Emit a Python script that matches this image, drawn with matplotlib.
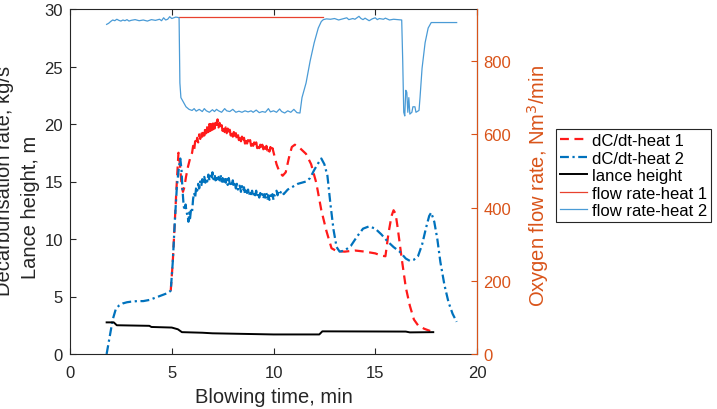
import numpy as np
import matplotlib
matplotlib.use('Agg')
import matplotlib.pyplot as plt

plt.rcParams['font.family'] = ['Liberation Sans', 'DejaVu Sans']

# decarburisation rate, heat 1 (kg/s)
t_dc1 = [4.95, 5.05, 5.15, 5.25, 5.33, 5.4, 5.48, 5.55, 5.62, 5.7, 5.8, 5.9, 6.0, 6.05, 6.1,
         6.15, 6.2, 6.25, 6.3, 6.35, 6.4, 6.45, 6.5, 6.55, 6.6, 6.65, 6.7, 6.75, 6.8, 6.85,
         6.9, 6.95, 7.0, 7.05, 7.1, 7.15, 7.2, 7.25, 7.3, 7.35, 7.4, 7.45, 7.5, 7.55, 7.6,
         7.65, 7.7, 7.75, 7.8, 7.85, 7.9, 7.95, 8.0, 8.05, 8.1, 8.15, 8.2, 8.25, 8.3, 8.35,
         8.4, 8.45, 8.5, 8.55, 8.6, 8.65, 8.7, 8.75, 8.8, 8.85, 8.9, 8.95, 9.0, 9.05, 9.1,
         9.15, 9.2, 9.25, 9.3, 9.35, 9.4, 9.45, 9.5, 9.55, 9.6, 9.65, 9.7, 9.75, 9.8, 9.85,
         9.9, 9.95, 10.05, 10.15, 10.3, 10.45, 10.6, 10.75, 10.9, 11.05, 11.3, 11.6, 11.85,
         12.1, 12.35, 12.6, 12.85, 13.1, 13.5, 14.0, 14.5, 15.0, 15.3, 15.5, 15.65, 15.8,
         15.9, 16.0, 16.1, 16.3, 16.5, 16.7, 16.9, 17.1, 17.4, 17.7]
dc1 = [5.5, 8.0, 11.5, 15.0, 17.5, 16.5, 14.8, 14.1, 14.5, 15.4, 16.3, 17.0, 17.5, 18.1, 17.7,
       18.5, 18.2, 18.8, 18.4, 19.1, 18.7, 19.3, 18.9, 19.5, 19.0, 19.7, 19.2, 19.8, 19.3, 20.0,
       19.4, 20.1, 19.5, 20.2, 19.6, 20.1, 19.7, 20.4, 19.7, 20.1, 19.5, 19.9, 19.4, 19.8, 19.3,
       19.7, 19.2, 19.6, 19.1, 19.5, 19.0, 19.4, 18.9, 19.3, 18.8, 19.2, 18.7, 19.1, 18.6, 19.0,
       18.5, 18.9, 18.4, 18.8, 18.3, 18.7, 18.3, 18.6, 18.2, 18.6, 18.1, 18.5, 18.1, 18.4, 18.0,
       18.4, 17.9, 18.3, 17.9, 18.2, 17.8, 18.2, 17.8, 18.1, 17.7, 18.1, 17.7, 18.0, 17.6, 18.0,
       17.6, 17.9, 17.2, 16.5, 15.8, 15.5, 15.8, 17.0, 18.0, 18.2, 17.9, 17.4, 16.5,
       14.9, 12.5, 10.7, 9.2, 8.95, 8.9, 9.0, 8.9, 8.75, 8.55, 8.5, 10.5, 12.0,
       12.5, 12.2, 11.0, 8.3, 5.8, 4.2, 3.0, 2.5, 2.2, 2.0]

# decarburisation rate, heat 2 (kg/s)
t_dc2 = [1.8, 1.95, 2.1, 2.25, 2.4, 2.6, 2.8, 3.0, 3.3, 3.6, 3.9, 4.2, 4.5, 4.8, 4.95, 5.05,
         5.15, 5.25, 5.35, 5.42, 5.48, 5.52, 5.58, 5.62, 5.68, 5.72, 5.78, 5.82, 5.86, 5.9,
         5.95, 6.0, 6.05, 6.1, 6.15, 6.2, 6.25, 6.3, 6.35, 6.4, 6.45, 6.5, 6.55, 6.6, 6.65,
         6.7, 6.75, 6.8, 6.85, 6.9, 6.95, 7.0, 7.05, 7.1, 7.15, 7.2, 7.25, 7.3, 7.35, 7.4,
         7.45, 7.5, 7.55, 7.6, 7.65, 7.7, 7.75, 7.8, 7.85, 7.9, 7.95, 8.0, 8.05, 8.1, 8.15,
         8.2, 8.25, 8.3, 8.35, 8.4, 8.45, 8.5, 8.55, 8.6, 8.65, 8.7, 8.75, 8.8, 8.85, 8.9,
         8.95, 9.0, 9.05, 9.1, 9.15, 9.2, 9.25, 9.3, 9.35, 9.4, 9.45, 9.5, 9.55, 9.6, 9.65,
         9.7, 9.75, 9.8, 9.85, 9.9, 9.95, 10.0, 10.05, 10.1, 10.15, 10.2, 10.25, 10.3, 10.4,
         10.5, 10.6, 10.7, 10.8, 10.9, 11.0, 11.2, 11.4, 11.6, 11.8, 12.0, 12.2, 12.35, 12.5,
         12.65, 12.8, 12.95, 13.1, 13.25, 13.5, 13.8, 14.1, 14.4, 14.7, 15.0, 15.3, 15.6,
         15.9, 16.2, 16.5, 16.7, 16.9, 17.1, 17.3, 17.5, 17.65, 17.75, 17.9, 18.05, 18.2,
         18.4, 18.6, 18.8, 19.0]
dc2 = [0.0, 1.5, 3.0, 3.9, 4.2, 4.4, 4.5, 4.55, 4.6, 4.6, 4.7, 4.9, 5.1, 5.3, 5.5, 8.0,
       11.5, 14.5, 16.2, 17.0, 16.0, 14.5, 13.0, 12.5, 13.0, 12.4, 12.0, 11.5, 12.3, 11.8,
       12.6, 12.4, 13.5, 14.0, 13.6, 14.5, 14.2, 14.8, 14.4, 15.0, 14.6, 15.2, 14.8, 15.4, 14.9,
       15.3, 15.0, 15.6, 15.1, 15.5, 15.2, 15.8, 15.2, 15.6, 15.1, 15.5, 15.0, 15.4, 15.1, 15.6,
       15.0, 15.3, 14.8, 15.4, 14.9, 15.2, 14.7, 15.3, 14.8, 15.0, 14.6, 15.1, 14.5, 14.9, 14.4,
       14.8, 14.3, 14.7, 14.6, 14.1, 14.6, 14.2, 14.5, 13.9, 14.4, 14.0, 14.3, 13.8, 14.2, 13.9,
       14.2, 13.7, 14.1, 13.8, 14.2, 13.7, 14.0, 13.6, 14.0, 13.7, 13.9, 13.5, 13.9, 13.6, 14.0,
       13.5, 13.8, 13.4, 13.8, 13.5, 13.9, 13.4, 13.8, 13.9, 14.2, 13.8, 14.1, 13.9, 14.2,
       13.9, 14.1, 14.3, 14.4, 14.5, 14.6, 14.8, 14.9, 15.0, 15.3, 16.0, 16.6, 17.0, 16.5,
       15.5, 13.0, 10.8, 9.3, 8.9, 9.0, 9.4, 10.2, 10.9, 11.1, 10.9, 10.4, 9.8,
       9.3, 8.9, 8.3, 8.1, 8.2, 8.5, 9.5, 11.0, 12.0, 12.3, 11.5, 10.0, 8.0,
       6.0, 4.5, 3.5, 2.8]

# lance height (m)
t_lance = [1.8, 2.15, 2.3, 3.9, 4.0, 5.0, 5.3, 5.5, 6.5, 7.0, 8.5, 10.0, 12.25, 12.4, 16.5,
           16.7, 17.85]
lance = [2.75, 2.75, 2.5, 2.45, 2.35, 2.3, 2.15, 1.9, 1.85, 1.8, 1.75, 1.7, 1.7, 1.97, 1.95,
         1.88, 1.9]

# oxygen flow rate, heat 1 (Nm3/min)
t_fr1 = [5.36, 12.45]
fr1 = [920, 920]

# oxygen flow rate, heat 2 (Nm3/min)
t_fr2 = [1.8, 1.9, 2.0, 2.1, 2.2, 2.3, 2.4, 2.5, 2.6, 2.7, 2.8, 2.9, 3.0, 3.2, 3.4, 3.6, 3.8,
         4.0, 4.2, 4.4, 4.5, 4.6, 4.7, 4.8, 4.9, 5.0, 5.1, 5.2, 5.3, 5.36, 5.4, 5.45, 5.55,
         5.7, 5.85, 6.0, 6.1, 6.2, 6.35, 6.5, 6.6, 6.7, 6.85, 7.0, 7.1, 7.2, 7.3, 7.45, 7.6,
         7.7, 7.85, 8.0, 8.15, 8.3, 8.45, 8.6, 8.75, 8.9, 9.0, 9.15, 9.3, 9.45, 9.6, 9.75,
         9.85, 10.0, 10.15, 10.3, 10.4, 10.55, 10.7, 10.85, 11.0, 11.15, 11.3, 11.4, 11.6,
         11.8, 12.0, 12.2, 12.35, 12.45, 12.6, 12.8, 13.0, 13.2, 13.4, 13.6, 13.7, 13.9, 14.0,
         14.2, 14.3, 14.4, 14.5, 14.7, 14.85, 15.0, 15.1, 15.2, 15.4, 15.5, 15.7, 15.9, 16.1,
         16.3, 16.35, 16.4, 16.45, 16.5, 16.55, 16.6, 16.65, 16.7, 16.8, 16.85, 16.95, 17.0,
         17.15, 17.2, 17.3, 17.45, 17.6, 17.75, 18.0, 18.5, 19.0]
fr2 = [900, 903, 908, 912, 910, 914, 911, 909, 912, 910, 913, 909, 911, 913, 910, 912, 909,
       913, 911, 914, 910, 918, 912, 914, 921, 916, 918, 920, 919, 918, 740, 700, 690,
       675, 668, 665, 670, 663, 668, 662, 670, 664, 660, 667, 662, 668, 664, 660, 670,
       664, 662, 668, 660, 663, 660, 664, 661, 664, 660, 666, 659, 662, 660, 670,
       661, 664, 660, 669, 662, 658, 664, 660, 668, 659, 658, 700, 740,
       800, 850, 890, 908, 913, 915, 914, 916, 912, 915, 918, 913, 916, 914,
       922, 916, 913, 917, 910, 915, 918, 913, 916, 914, 917, 912, 914, 913,
       912, 800, 660, 650, 720, 715, 660, 700, 655, 660, 675, 675, 660,
       665, 700, 780, 850, 890, 905, 905, 905, 905]

orange = '#D95319'

fig = plt.figure(figsize=(7.17, 4.10), dpi=100)
ax = fig.add_axes([70 / 717, 1 - 355 / 410, 407 / 717, 345 / 410])
ax2 = ax.twinx()

h1, = ax.plot(t_dc1, dc1, color='#FF1A1A', lw=1.6, dashes=(4, 2.5), label='dC/dt-heat 1')
h2, = ax.plot(t_dc2, dc2, color='#0072BD', lw=1.6, dashes=(4, 1.6, 1, 1.6), label='dC/dt-heat 2')
h3, = ax.plot(t_lance, lance, color='black', lw=1.4, label='lance height')
h4, = ax2.plot(t_fr1, fr1, color='#E8412E', lw=0.9, label='flow rate-heat 1')
h5, = ax2.plot(t_fr2, fr2, color='#4A9BD6', lw=0.9, label='flow rate-heat 2')

ax.set_xlim(0, 20)
ax.set_ylim(0, 30)
ax.set_xticks([0, 5, 10, 15, 20])
ax.set_yticks([0, 5, 10, 15, 20, 25, 30])
ax2.set_ylim(0, 942)
ax2.set_yticks([0, 200, 400, 600, 800])

ax.tick_params(axis='both', direction='in', length=4, width=0.8, labelsize=12,
               colors='#262626', top=True)
ax.tick_params(axis='x', pad=8)
ax.tick_params(axis='y', pad=5)
ax2.tick_params(axis='y', direction='in', length=4, width=0.8, labelsize=12,
                colors=orange, pad=4.5)
for s in ['left', 'top', 'bottom']:
    ax.spines[s].set_color('#262626')
    ax.spines[s].set_linewidth(0.8)
ax2.spines['right'].set_color(orange)
ax2.spines['right'].set_linewidth(0.8)
ax2.spines['left'].set_visible(False)
ax2.spines['top'].set_visible(False)
ax2.spines['bottom'].set_visible(False)

ax.set_xlabel('Blowing time, min', fontsize=14.5, color='#262626', labelpad=5)
fig.text(5 / 717, 1 - 181 / 410, 'Decarburisation rate, kg/s', rotation=90,
         ha='center', va='center', fontsize=14.5, color='#262626')
fig.text(30 / 717, 1 - 207 / 410, 'Lance height, m', rotation=90,
         ha='center', va='center', fontsize=14.5, color='#262626')
fig.text(538 / 717, 1 - 186 / 410, 'Oxygen flow rate, Nm$^3$/min', rotation=90,
         ha='center', va='center', fontsize=14.5, color=orange)

leg = fig.legend(handles=[h1, h2, h3, h4, h5], loc='upper left',
                 bbox_to_anchor=(556 / 717, 1 - 130 / 410), fontsize=12,
                 frameon=True, fancybox=False, edgecolor='#262626', framealpha=1,
                 handlelength=1.6, handletextpad=0.3, labelspacing=0.15,
                 borderpad=0.25, borderaxespad=0)
leg.get_frame().set_linewidth(0.8)

fig.savefig('out.png', dpi=100)
